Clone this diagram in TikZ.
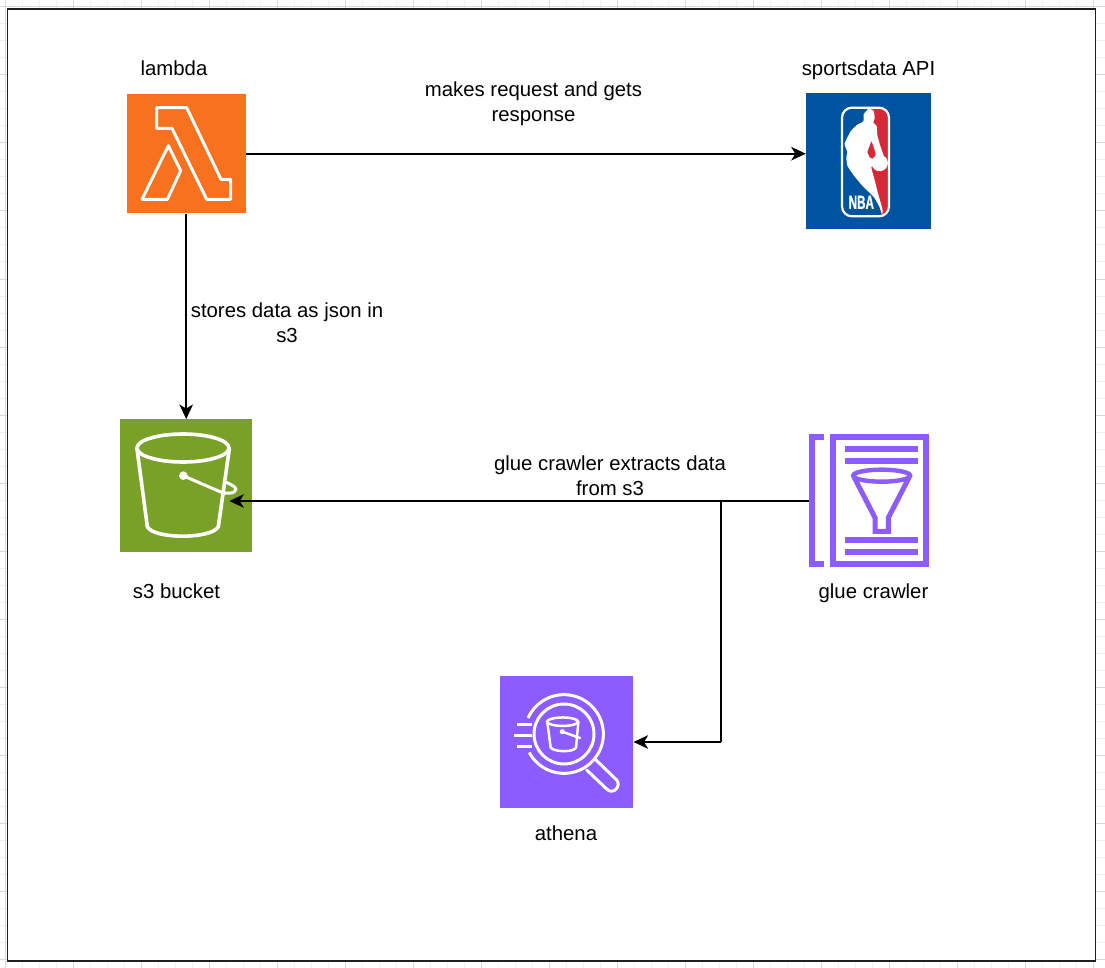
\documentclass[tikz,border=0pt]{standalone}
\usepackage{fontspec}
\setmainfont{Liberation Sans}
\usetikzlibrary{arrows.meta}
\definecolor{awsorange}{HTML}{F8711F}
\definecolor{awsgreen}{HTML}{7AA127}
\definecolor{awspurple}{HTML}{8C5CFF}
\definecolor{nbablue}{HTML}{00549F}
\definecolor{nbared}{HTML}{D72838}
\definecolor{gridminor}{HTML}{F0F0F0}
\definecolor{gridmajor}{HTML}{D8D8D8}
\tikzset{
  x=1pt,y=-1pt,
  label text/.style={font=\fontsize{20.35}{25}\selectfont,align=center,inner sep=0pt,text=black},
  conn/.style={draw=black,line width=1.8pt,-{Stealth[length=14.5pt,width=13.5pt,inset=4pt]}},
  plain conn/.style={draw=black,line width=1.8pt},
  zoomed/.style 2 args={shift={(#1pt,-#2pt)},x=.33333pt,y=-.33333pt},
  wl/.style={draw=white,line width=#1,line join=round,line cap=round},
  pl/.style={draw=awspurple,line width=#1,line join=miter},
}
\begin{document}
\begin{tikzpicture}
\useasboundingbox (0,0) rectangle (1105,968);
\fill[white] (0,0) rectangle (1105,968);
% grid in the margins
\foreach \k in {0,...,64}{
  \pgfmathsetmacro{\gx}{5+17*\k}
  \draw[gridminor,line width=1pt] (\gx,0) -- (\gx,968);
}
\foreach \k in {0,...,56}{
  \pgfmathsetmacro{\gy}{7+17*\k}
  \draw[gridminor,line width=1pt] (0,\gy) -- (1105,\gy);
}
\foreach \k in {0,...,16}{
  \pgfmathsetmacro{\gx}{5+68*\k}
  \draw[gridmajor,line width=1pt] (\gx,0) -- (\gx,968);
}
\foreach \k in {0,...,14}{
  \pgfmathsetmacro{\gy}{7+68*\k}
  \draw[gridmajor,line width=1pt] (0,\gy) -- (1105,\gy);
}
% frame
\node[draw=black!88,fill=white,line width=1.9pt,inner sep=0pt,minimum width=1088pt,minimum height=952pt] (frame) at (551.5,485) {};

% icon boxes
\node[fill=awsorange,inner sep=0pt,minimum width=119pt,minimum height=119.5pt] (lambda) at (186.2,153.7) {};
\node[fill=nbablue,inner sep=0pt,minimum width=125.5pt,minimum height=136pt] (nba) at (868.7,161.5) {};
\node[fill=awsgreen,inner sep=0pt,minimum width=132.5pt,minimum height=132.5pt] (s3) at (186.2,485.5) {};
\node[inner sep=0pt,minimum width=121pt,minimum height=133pt] (glue) at (869.5,501) {};
\node[fill=awspurple,inner sep=0pt,minimum width=133.3pt,minimum height=132.6pt] (athena) at (566.7,742) {};

% lambda icon
\begin{scope}[zoomed={110}{80}]
\draw[wl=3pt] (140,83) -- (230,83) -- (333,298) -- (362,298) -- (362,358) -- (290,358) -- (186,145) -- (140,145) -- cycle;
\draw[wl=3pt] (175,197) -- (212,272) -- (172,358) -- (96,358) -- cycle;
\end{scope}

% NBA icon
\begin{scope}[zoomed={838}{102}]
\begin{scope}
\clip[rounded corners=10pt] (10,15) rectangle (155,345);
\fill[nbared] (95,10) -- (160,10) -- (160,350) -- (133,350) -- (100,195) -- (85,150) -- (95,100) -- cycle;
\end{scope}
\fill[white] plot[smooth,tension=.3] coordinates {(92,19) (107,27) (110,48) (106,62) (116,72) (118,100) (128,135) (137,165) (118,190) (100,195) (110,234) (120,274) (134,324) (132,336) (124,314) (108,286) (73,251) (48,221) (28,191) (25,165) (28,150) (20,125) (38,88) (58,68) (76,58) (77,36)} -- cycle;
\fill[nbared] (100,118) -- (88,150) -- (95,166) -- (109,172) -- (113,156) -- (106,132) -- cycle;
\fill[white] (125,183) circle (8.2pt);
\draw[white,line width=2.2pt,rounded corners=10pt] (12,17) rectangle (153,343);
\node[text=white,font=\fontsize{18.8}{19}\selectfont\bfseries\addfontfeature{FakeBold=1.2},inner sep=0pt,xscale=.62,transform shape] (nbatext) at (70,301) {NBA};
\end{scope}

% s3 bucket icon
\begin{scope}[zoomed={110}{410}]
\draw[white,line width=3.6pt] (219,114) ellipse [x radius=46pt,y radius=14pt];
\draw[wl=3.6pt] (81,116) -- (112,350) .. controls (130,388) and (305,388) .. (325,350) -- (358,116);
\fill[white] (220,197) circle (4.3pt);
\draw[wl=3pt] (220,197) .. controls (260,215) and (300,232) .. (335,247) .. controls (370,256) and (390,240) .. (370,228) .. controls (362,222) and (352,219) .. (346,216);
\end{scope}

% glue crawler icon
\begin{scope}[zoomed={800}{425}]
\draw[pl=6pt] (73,37) -- (37,37) -- (37,417) -- (73,417);
\draw[pl=5.8pt] (99,37) -- (379,37) -- (379,417) -- (99,417) -- cycle;
\foreach \yy in {73,109,345,381}{
  \draw[draw=awspurple,line width=5.8pt] (136,\yy) -- (353,\yy);
}
\draw[draw=awspurple,line width=4.4pt] (245,152) ellipse [x radius=28.5pt,y radius=6pt];
\draw[pl=5pt] (163,158) -- (225,278) -- (225,319) -- (265,319) -- (265,278) -- (327,158);
\end{scope}

% athena icon
\begin{scope}[zoomed={490}{665}]
\draw[wl=3pt,line cap=butt] plot[domain=-156:152,samples=80] ({222+118*cos(\x)},{207+118*sin(\x)});
\draw[white,line width=3pt] (222,207) circle (30pt);
\foreach \xa/\yy in {82/178,72/211,82/243}{
  \draw[white,line width=3pt] (\xa,\yy) -- (125,\yy);
}
\draw[wl=3pt] (318,285) -- (380,345) .. controls (395,362) and (370,392) .. (350,372) -- (290,315);
\draw[white,line width=2.5pt] (218,170) ellipse [x radius=15.5pt,y radius=4.2pt];
\draw[wl=2.5pt] (172,172) -- (182,248) .. controls (195,262) and (250,262) .. (258,248) -- (265,172);
\fill[white] (217,200) circle (2.6pt);
\draw[wl=2.5pt] (222,202) -- (270,219);
\end{scope}

% connectors
\draw[conn] (lambda.east) -- (lambda.east -| nba.west);
\draw[conn] (lambda.south) -- (s3.north);
\coordinate (s3tip) at (229.3,501);
\coordinate (fork) at (721,501);
\coordinate (turn) at (721,742);
\draw[conn] (glue.west) -- (s3tip);
\draw[plain conn] (fork) -- (turn);
\draw[conn] (turn) -- (athena.east);

% labels
\node[label text] (t1) at (174,68) {lambda};
\node[label text] (t2) at (868.5,70) {sportsdata API};
\node[label text] (t3) at (533.5,103.5) {makes request and gets\\response};
\node[label text] (t4) at (287,322.5) {stores data as json in\\s3};
\node[label text] (t5) at (610,475.5) {glue crawler extracts data\\from s3};
\node[label text] (t6) at (176.5,591) {s3 bucket};
\node[label text] (t7) at (873.5,593) {glue crawler};
\node[label text] (t8) at (566,833) {athena};
\end{tikzpicture}
\end{document}
